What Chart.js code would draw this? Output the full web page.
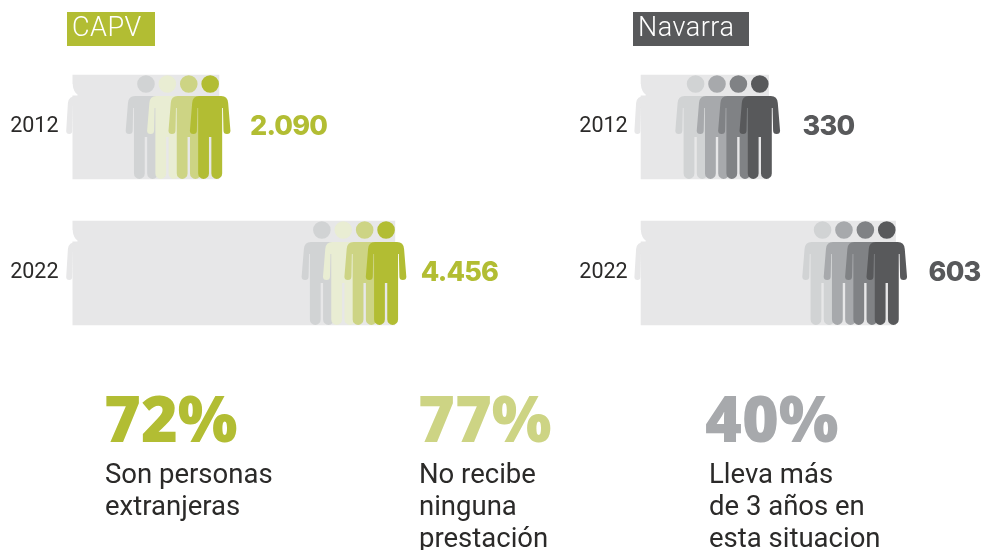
<!DOCTYPE html>
<html>
<head>
<meta charset="utf-8">
<style>
  html, body { margin: 0; padding: 0; background: #fff; }
  body { width: 983px; height: 550px; position: relative; overflow: hidden; font-family: "Roboto", sans-serif; }
  canvas { position: absolute; top: 0; }
  #chartCapv { left: 0; }
  #chartNavarra { left: 500px; }
  .tag { position: absolute; top: 12px; height: 34px; line-height: 31px; color: #fff; font-size: 27px; font-weight: 300; letter-spacing: 0.5px; padding-left: 5px; box-sizing: border-box; }
  .big { position: absolute; top: 381px; font-family: "Open Sans", sans-serif; font-size: 63px; line-height: 74px; font-weight: 800; }
  .caption { position: absolute; top: 458px; font-size: 27.5px; line-height: 32px; color: #2b2a29; white-space: pre; }
</style>
</head>
<body>
<canvas id="chartCapv" width="500" height="550"></canvas>
<canvas id="chartNavarra" width="483" height="550"></canvas>
<div id="tags"></div>
<div id="stats"></div>
<script src="https://cdn.jsdelivr.net/npm/chart.js@4/dist/chart.umd.min.js"></script>
<script>
const years = ["2012", "2022"];
const capvValues = [2090, 4456];
const navarraValues = [330, 603];
const capvLabels = ["2.090", "4.456"];
const navarraLabels = ["330", "603"];
const capvShades = ["#d1d3d4", "#e9edd3", "#cdd484", "#b2bd33"];
const navarraShades = ["#d1d3d4", "#a7a9ac", "#808285", "#58595b"];
const statValues = ["72%", "77%", "40%"];
const statCaptions = ["Son personas\nextranjeras", "No recibe\nninguna\nprestación", "Lleva más\nde 3 años en\nesta situacion"];

// one figure, x relative to the middle of the head, y relative to the top of the head
function personPath(ctx, cx, top) {
    ctx.beginPath();
    ctx.arc(cx, top + 9, 8.8, 0, Math.PI * 2);
    ctx.closePath();
    [1, -1].forEach(s => {
        const x = v => cx + s * v;
        const y = v => top + v;
        ctx.moveTo(x(0), y(21));
        ctx.lineTo(x(11), y(21));
        ctx.quadraticCurveTo(x(17.5), y(21), x(18), y(28));
        ctx.lineTo(x(20.2), y(55));
        ctx.arc(x(16.8), y(55.5), 3.5, s > 0 ? 0 : Math.PI, s > 0 ? Math.PI : 0, s < 0);
        ctx.lineTo(x(12.8), y(33));
        ctx.lineTo(x(12), y(33));
        ctx.lineTo(x(12), y(98.5));
        ctx.arc(x(6.6), y(98.5), 5.4, s > 0 ? 0 : Math.PI, s > 0 ? Math.PI : 0, s < 0);
        ctx.lineTo(x(1.2), y(62));
        ctx.lineTo(x(0), y(62));
        ctx.closePath();
    });
    ctx.fill();
}

const peoplePlugin = {
    id: "people",
    afterDatasetsDraw(chart, args, opts) {
        const ctx = chart.ctx;
        const bars = chart.getDatasetMeta(0).data;
        bars.forEach((bar, i) => {
            const top = bar.y - 52;
            const left = chart.chartArea.left;
            ctx.save();
            // notch under the smeared head
            ctx.fillStyle = "#fff";
            ctx.beginPath();
            ctx.moveTo(left - 1, top + 9);
            ctx.lineTo(left, top + 9);
            ctx.quadraticCurveTo(left + 1, top + 17, left + 5, top + 19.5);
            ctx.lineTo(left + 5, top + 20.6);
            ctx.lineTo(left - 1, top + 20.6);
            ctx.closePath();
            ctx.fill();
            // left arm of the first figure
            ctx.fillStyle = opts.trail;
            ctx.beginPath();
            ctx.moveTo(left + 4, top + 21);
            ctx.quadraticCurveTo(left - 4, top + 21, left - 4.6, top + 28);
            ctx.lineTo(left - 6.3, top + 56);
            ctx.arc(left - 3.3, top + 56, 3, Math.PI, 0, true);
            ctx.lineTo(left + 0.3, top + 31);
            ctx.lineTo(left + 4, top + 27);
            ctx.closePath();
            ctx.fill();
            // four figures stepping towards the end of the bar
            opts.shades.forEach((shade, k) => {
                ctx.fillStyle = shade;
                personPath(ctx, bar.x - 8.8 - (opts.shades.length - 1 - k) * opts.step, top);
            });
            // value
            ctx.fillStyle = opts.labelColor;
            ctx.font = opts.labelFont;
            ctx.letterSpacing = "-0.8px";
            ctx.textAlign = "left";
            ctx.textBaseline = "middle";
            ctx.fillText(opts.labels[i], bar.x + opts.labelGap[i], bar.y);
            ctx.restore();
        });
    }
};

function makeChart(id, values, labels, shades, labelColor, cfg) {
    return new Chart(document.getElementById(id).getContext("2d"), {
        type: "bar",
        plugins: [peoplePlugin],
        data: {
            labels: years,
            datasets: [{
                data: values,
                backgroundColor: "#e7e7e8",
                barThickness: 104,
                borderSkipped: false,
                borderRadius: { topLeft: 10, bottomLeft: 4, topRight: 0, bottomRight: 0 }
            }]
        },
        options: {
            indexAxis: "y",
            responsive: false,
            animation: false,
            layout: { padding: { top: 54, bottom: 204, left: 0, right: 0 } },
            plugins: {
                legend: { display: false },
                tooltip: { enabled: false },
                people: {
                    shades: shades,
                    trail: "#e7e7e8",
                    step: 21.4,
                    labels: labels,
                    labelGap: cfg.labelGap,
                    labelColor: labelColor,
                    labelFont: "800 27px Inter"
                }
            },
            scales: {
                x: { display: false, min: cfg.min, max: cfg.max },
                y: {
                    afterFit: scale => { scale.width = cfg.axisWidth; },
                    grid: { display: false, drawTicks: false },
                    border: { display: false },
                    ticks: {
                        crossAlign: "center",
                        padding: cfg.tickPadding,
                        color: "#2b2a29",
                        font: { family: "Roboto", size: 21.5, weight: 400 }
                    }
                }
            }
        }
    });
}

makeChart("chartCapv", capvValues, capvLabels, capvShades, "#b2bd33",
    { min: 120, max: 5870, axisWidth: 72.5, tickPadding: 14, labelGap: [31, 26] });
makeChart("chartNavarra", navarraValues, navarraLabels, navarraShades, "#58595b",
    { min: 55, max: 791, axisWidth: 140.7, tickPadding: 13, labelGap: [34, 33] });

const tagBoxes = [["CAPV", 67, 88, "#b2bd33"], ["Navarra", 633, 116, "#58595b"]];
tagBoxes.forEach(t => {
    const el = document.createElement("div");
    el.className = "tag";
    el.textContent = t[0];
    el.style.left = t[1] + "px";
    el.style.width = t[2] + "px";
    el.style.background = t[3];
    document.getElementById("tags").appendChild(el);
});

const bigLeft = [104, 418, 705];
const captionLeft = [105, 419, 709];
const statColors = ["#b2bd33", "#cdd484", "#a7a9ac"];
statValues.forEach((v, i) => {
    const big = document.createElement("div");
    big.className = "big";
    big.style.left = bigLeft[i] + "px";
    big.style.color = statColors[i];
    big.textContent = v;
    const cap = document.createElement("div");
    cap.className = "caption";
    cap.style.left = captionLeft[i] + "px";
    cap.textContent = statCaptions[i];
    document.getElementById("stats").appendChild(big);
    document.getElementById("stats").appendChild(cap);
});
</script>
</body>
</html>
